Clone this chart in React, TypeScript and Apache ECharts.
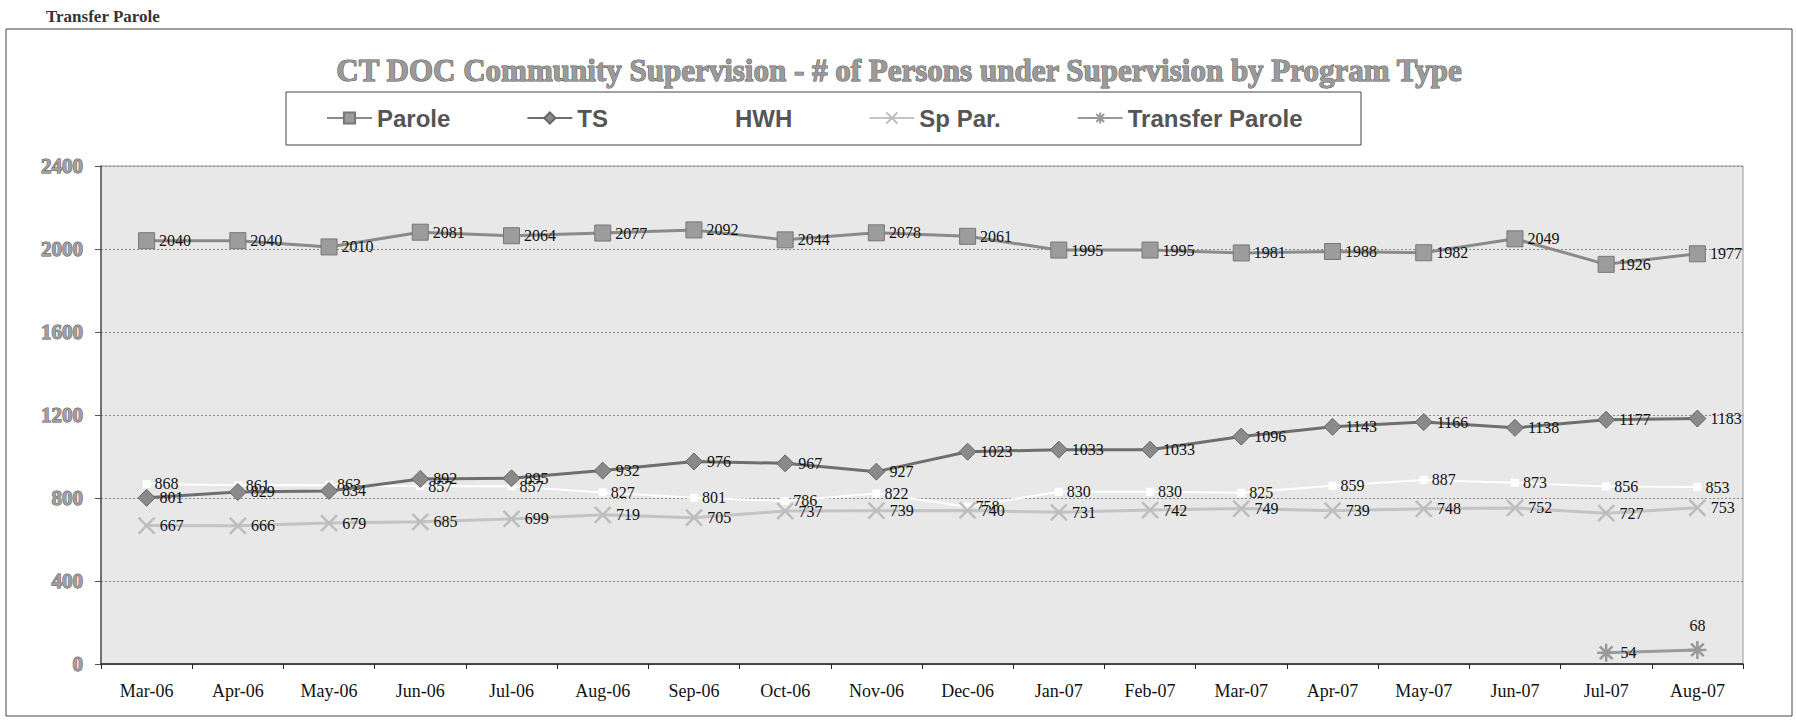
import React, { useEffect, useRef } from "react";
import * as echarts from "echarts";

const CATEGORIES = [
  "Mar-06", "Apr-06", "May-06", "Jun-06", "Jul-06", "Aug-06", "Sep-06", "Oct-06", "Nov-06",
  "Dec-06", "Jan-07", "Feb-07", "Mar-07", "Apr-07", "May-07", "Jun-07", "Jul-07", "Aug-07",
];
const PAROLE = [2040, 2040, 2010, 2081, 2064, 2077, 2092, 2044, 2078, 2061, 1995, 1995, 1981, 1988, 1982, 2049, 1926, 1977];
const TS = [801, 829, 834, 892, 895, 932, 976, 967, 927, 1023, 1033, 1033, 1096, 1143, 1166, 1138, 1177, 1183];
const HWH = [868, 861, 863, 857, 857, 827, 801, 786, 822, 758, 830, 830, 825, 859, 887, 873, 856, 853];
const SP_PAR = [667, 666, 679, 685, 699, 719, 705, 737, 739, 740, 731, 742, 749, 739, 748, 752, 727, 753];
const TRANSFER = [null, null, null, null, null, null, null, null, null, null, null, null, null, null, null, null, 54, 68];
const Y_MIN = 0;
const Y_MAX = 2400;
const Y_STEP = 400;

const X_SYMBOL = "path://M0,0L10,10M10,0L0,10";
const STAR_SYMBOL = "path://M5,0L5,10M0,5L10,5M1.5,1.5L8.5,8.5M8.5,1.5L1.5,8.5";

const dataLabel = {
  show: true,
  position: "right" as const,
  distance: 4,
  fontFamily: "Liberation Serif",
  fontSize: 16,
  color: "#111",
};

export default function App() {
  const ref = useRef<HTMLDivElement>(null);

  useEffect(() => {
    if (!ref.current) return;
    const chart = echarts.init(ref.current, null, { renderer: "svg" });
    const option = {
      animation: false,
      backgroundColor: "#ffffff",
      graphic: [
        {
          type: "text",
          x: 46,
          y: 16,
          style: {
            text: "Transfer Parole",
            fontFamily: "Liberation Serif",
            fontWeight: "bold",
            fontSize: 17,
            fill: "#333",
            verticalAlign: "middle",
          },
        },
        {
          type: "rect",
          shape: { x: 6, y: 29, width: 1786, height: 687 },
          style: { fill: "none", stroke: "#444", lineWidth: 1 },
        },
        {
          type: "text",
          x: 899,
          y: 70,
          style: {
            text: "CT DOC Community Supervision - # of Persons under Supervision by Program Type",
            fontFamily: "Liberation Serif",
            fontWeight: "bold",
            fontSize: 31,
            fill: "#9a9a9a",
            stroke: "#555",
            lineWidth: 1,
            align: "center",
            verticalAlign: "middle",
          },
        },
        {
          type: "rect",
          shape: { x: 286, y: 92, width: 1075, height: 53 },
          style: { fill: "#fff", stroke: "#444", lineWidth: 1 },
        },
      ],
      legend: {
        left: 326,
        top: 106,
        padding: 0,
        itemGap: 76,
        itemWidth: 45,
        itemHeight: 14,
        textStyle: {
          fontFamily: "Liberation Sans",
          fontWeight: "bold",
          fontSize: 24,
          color: "#555",
        },
        data: ["Parole", "TS", "HWH", "Sp Par.", "Transfer Parole"],
      },
      grid: {
        left: 101,
        top: 166,
        right: 53,
        bottom: 57,
        show: true,
        backgroundColor: "#e8e8e8",
        borderColor: "#999",
        borderWidth: 1,
      },
      xAxis: {
        type: "category",
        data: CATEGORIES,
        boundaryGap: true,
        axisLine: { lineStyle: { color: "#222", width: 1.5 } },
        axisTick: { show: true, inside: false, length: 5, lineStyle: { color: "#222" } },
        axisLabel: {
          fontFamily: "Liberation Serif",
          fontSize: 18,
          color: "#111",
          margin: 18,
          interval: 0,
        },
        splitLine: { show: false },
      },
      yAxis: {
        type: "value",
        min: Y_MIN,
        max: Y_MAX,
        interval: Y_STEP,
        axisLine: { show: true, lineStyle: { color: "#555", width: 1.5 } },
        axisTick: { show: true, inside: false, length: 6, lineStyle: { color: "#555" } },
        axisLabel: {
          fontFamily: "Liberation Serif",
          fontWeight: "bold",
          fontSize: 21,
          color: "#a0a0a0",
          textBorderColor: "#555",
          textBorderWidth: 1,
          margin: 18,
          formatter: (v: number) => String(v),
        },
        splitLine: { show: true, lineStyle: { color: "#888", type: [2, 2], width: 1 } },
      },
      series: [
        {
          name: "HWH",
          type: "line",
          data: HWH,
          symbol: "rect",
          symbolSize: 8,
          lineStyle: { color: "#ffffff", width: 2 },
          itemStyle: { color: "#ffffff" },
          label: dataLabel,
          z: 2,
        },
        {
          name: "Parole",
          type: "line",
          data: PAROLE,
          symbol: "rect",
          symbolSize: 16,
          lineStyle: { color: "#8a8a8a", width: 3 },
          itemStyle: { color: "#9c9c9c", borderColor: "#777", borderWidth: 1 },
          label: dataLabel,
          z: 3,
        },
        {
          name: "TS",
          type: "line",
          data: TS,
          symbol: "diamond",
          symbolSize: 17,
          lineStyle: { color: "#6e6e6e", width: 3 },
          itemStyle: { color: "#8a8a8a", borderColor: "#666", borderWidth: 1 },
          label: dataLabel,
          z: 3,
        },
        {
          name: "Sp Par.",
          type: "line",
          data: SP_PAR,
          symbol: X_SYMBOL,
          symbolSize: 16,
          lineStyle: { color: "#c4c4c4", width: 3 },
          itemStyle: { color: "#bdbdbd", borderColor: "#bdbdbd", borderWidth: 2.5 },
          label: dataLabel,
          z: 3,
        },
        {
          name: "Transfer Parole",
          type: "line",
          data: TRANSFER.map((v, i) =>
            i === TRANSFER.length - 1 && v != null
              ? { value: v, label: { position: "top", distance: 6 } }
              : v
          ),
          symbol: STAR_SYMBOL,
          symbolSize: 18,
          lineStyle: { color: "#9a9a9a", width: 3 },
          itemStyle: { color: "#999", borderColor: "#999", borderWidth: 2.5 },
          label: dataLabel,
          z: 3,
        },
      ],
    };
    chart.setOption(option as any);
    return () => chart.dispose();
  }, []);

  return (
    <div
      ref={ref}
      style={{ position: "fixed", left: 0, top: 0, width: 1796, height: 721 }}
    />
  );
}
